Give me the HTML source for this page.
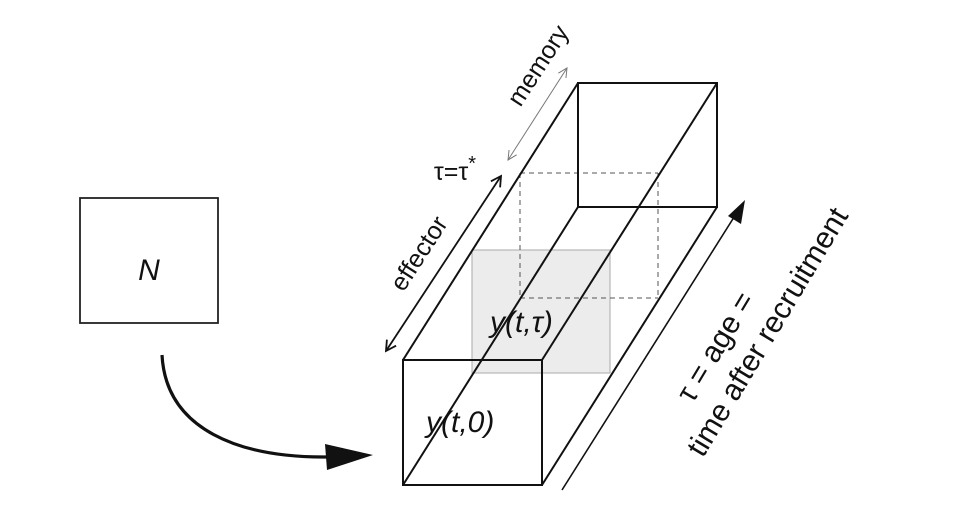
<!DOCTYPE html>
<html><head><style>
html,body{margin:0;padding:0;background:#fff;width:960px;height:520px;overflow:hidden}
text{font-family:"Liberation Sans",sans-serif;fill:#111}
</style></head><body>
<svg width="960" height="520" viewBox="0 0 960 520" xmlns="http://www.w3.org/2000/svg">
<defs>
<marker id="oa" markerWidth="14" markerHeight="14" refX="12" refY="7" orient="auto-start-reverse" markerUnits="userSpaceOnUse">
<path d="M2,1.5 L12,7 L2,12.5" fill="none" stroke="#111" stroke-width="1.8"/></marker>
<marker id="ga" markerWidth="12" markerHeight="12" refX="10" refY="6" orient="auto-start-reverse" markerUnits="userSpaceOnUse">
<path d="M1,1.5 L10,6 L1,10.5" fill="none" stroke="#777" stroke-width="1"/></marker>
</defs>
<rect x="80" y="198" width="138" height="125" fill="#fff" stroke="#222" stroke-width="1.8"/>
<text x="149" y="280" font-size="30" font-style="italic" text-anchor="middle">N</text>
<path d="M162,355 C166,430 240,458 328,457" fill="none" stroke="#111" stroke-width="3.2"/>
<polygon points="325,444 373,455 327,470" fill="#111"/>
<rect x="472" y="250" width="138" height="123" fill="#ececec" stroke="#aaa" stroke-width="1"/>
<g stroke="#555" stroke-width="1" stroke-dasharray="5,4" fill="none">
<line x1="520" y1="173" x2="658" y2="173"/>
<line x1="520" y1="173" x2="520" y2="298"/>
<line x1="520" y1="298" x2="658" y2="298"/>
<line x1="658" y1="173" x2="658" y2="298"/>
</g>
<g stroke="#111" stroke-width="2" fill="none">
<rect x="578" y="83" width="139" height="124"/>
<line x1="403" y1="360" x2="578" y2="83"/>
<line x1="542" y1="360" x2="717" y2="83"/>
<line x1="542" y1="485" x2="717" y2="207"/>
<line x1="403" y1="485" x2="578" y2="207"/>
<rect x="403" y="360" width="139" height="125"/>
</g>
<line x1="562" y1="490" x2="736" y2="214" stroke="#111" stroke-width="1.6"/>
<polygon points="745,200 741,224 728,216" fill="#111"/>
<line x1="386" y1="351" x2="501" y2="176" stroke="#111" stroke-width="1.8" marker-start="url(#oa)" marker-end="url(#oa)"/>
<line x1="508" y1="160" x2="567" y2="68" stroke="#777" stroke-width="1" marker-start="url(#ga)" marker-end="url(#ga)"/>
<text x="455" y="180" font-size="25" text-anchor="middle">τ=τ<tspan font-size="20" dy="-10">*</tspan></text>
<text transform="translate(426,258) rotate(-57)" font-size="25" text-anchor="middle">effector</text>
<text transform="translate(545,70) rotate(-57)" font-size="25" text-anchor="middle">memory</text>
<text x="490" y="332" font-size="30" font-style="italic">y(t,τ)</text>
<text x="426" y="432" font-size="30" font-style="italic">y(t,0)</text>
<text transform="translate(724,352) rotate(-59)" font-size="30" text-anchor="middle">τ = age =</text>
<text transform="translate(776,337) rotate(-59)" font-size="30" text-anchor="middle">time after recruitment</text>
</svg>
</body></html>
